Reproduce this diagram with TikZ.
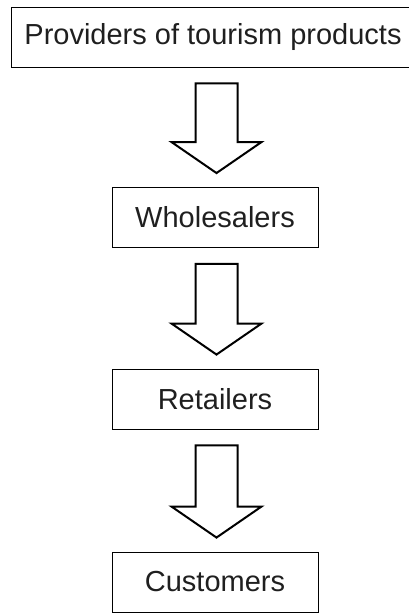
\documentclass[tikz,border=0pt]{standalone}
\usepackage{fontspec}
\setmainfont{Liberation Sans}
\usetikzlibrary{calc}
\begin{document}
\begin{tikzpicture}[x=1pt,y=-1pt,
  box/.style={draw=black,line width=0.9pt,minimum height=60pt,inner sep=0pt,
    text=black!88,font=\fontsize{29}{34}\selectfont},
  fatarrow/.style={draw=black,line width=2pt,fill=white,line join=miter}]
\useasboundingbox (0,0) rectangle (409,613);
\node[box,minimum width=404pt] (p) at (213,37) {Providers of tourism products};
\node[box,minimum width=206pt] (w) at (215,217.5) {Wholesalers};
\node[box,minimum width=206pt] (r) at (215,399) {Retailers};
\node[box,minimum width=206pt] (c) at (215,582) {Customers};
\foreach \a/\b in {p/w,w/r,r/c}{
  \draw[fatarrow] let \p1=(\a.south), \p2=(\b.north) in
    (216.5pt-21pt,\y1-16pt) -- (216.5pt+21pt,\y1-16pt) --
    (216.5pt+21pt,\y2+45pt) -- (216.5pt+45pt,\y2+45pt) --
    (216.5pt,\y2+14pt) -- (216.5pt-45pt,\y2+45pt) --
    (216.5pt-21pt,\y2+45pt) -- cycle;
}
\end{tikzpicture}
\end{document}
